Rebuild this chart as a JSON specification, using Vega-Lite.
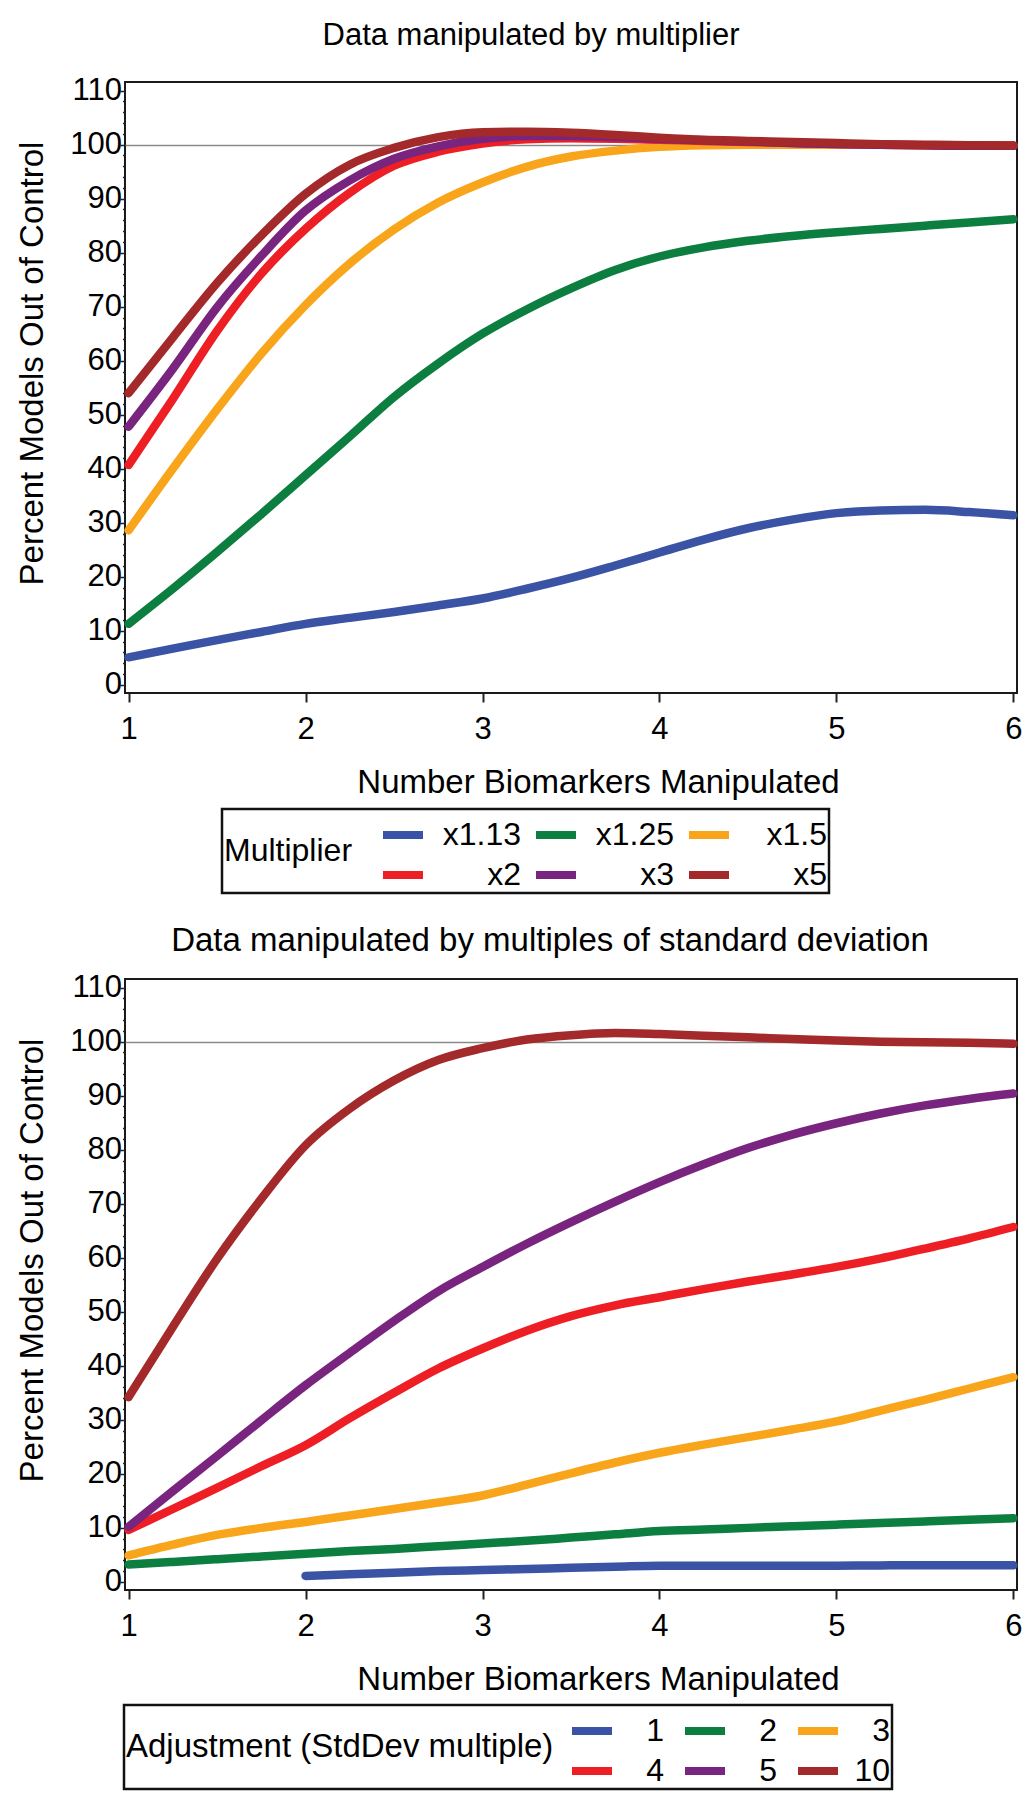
{
  "$schema": "https://vega.github.io/schema/vega-lite/v6.json",
  "background": "white",
  "padding": {"left": 15, "top": 18, "right": 5, "bottom": 2},
  "spacing": 27,
  "resolve": {"scale": {"color": "independent"}, "legend": {"color": "independent"}},
  "config": {
    "font": "Liberation Sans",
    "view": {"stroke": "#1a1a1a", "strokeWidth": 2},
    "axis": {
      "domain": false,
      "labelColor": "black",
      "titleColor": "black",
      "titleFontWeight": "normal",
      "tickColor": "#222222",
      "labelOverlap": false,
      "labelFlush": false,
      "labelBound": false
    },
    "title": {"color": "black", "fontWeight": "normal"},
    "legend": {
      "titleColor": "black",
      "labelColor": "black",
      "titleFontWeight": "normal",
      "strokeWidth": 2.5
    }
  },
  "datasets": {
    "mult": [
      {"n":1,"pct":5.1,"m":"x1.13"},{"n":1.25,"pct":6.7,"m":"x1.13"},{"n":1.5,"pct":8.3,"m":"x1.13"},{"n":1.75,"pct":9.8,"m":"x1.13"},{"n":2,"pct":11.3,"m":"x1.13"},{"n":2.25,"pct":12.4,"m":"x1.13"},{"n":2.5,"pct":13.5,"m":"x1.13"},{"n":2.75,"pct":14.7,"m":"x1.13"},{"n":3,"pct":16.0,"m":"x1.13"},{"n":3.25,"pct":17.8,"m":"x1.13"},{"n":3.5,"pct":19.8,"m":"x1.13"},{"n":3.75,"pct":22.1,"m":"x1.13"},{"n":4,"pct":24.5,"m":"x1.13"},{"n":4.25,"pct":26.9,"m":"x1.13"},{"n":4.5,"pct":29.0,"m":"x1.13"},{"n":4.75,"pct":30.6,"m":"x1.13"},{"n":5,"pct":31.8,"m":"x1.13"},{"n":5.25,"pct":32.3,"m":"x1.13"},{"n":5.5,"pct":32.4,"m":"x1.13"},{"n":5.75,"pct":32.0,"m":"x1.13"},{"n":6,"pct":31.4,"m":"x1.13"},
      {"n":1,"pct":11.3,"m":"x1.25"},{"n":1.25,"pct":17.8,"m":"x1.25"},{"n":1.5,"pct":24.6,"m":"x1.25"},{"n":1.75,"pct":31.6,"m":"x1.25"},{"n":2,"pct":38.8,"m":"x1.25"},{"n":2.25,"pct":46.0,"m":"x1.25"},{"n":2.5,"pct":53.3,"m":"x1.25"},{"n":2.75,"pct":59.5,"m":"x1.25"},{"n":3,"pct":65.0,"m":"x1.25"},{"n":3.25,"pct":69.5,"m":"x1.25"},{"n":3.5,"pct":73.4,"m":"x1.25"},{"n":3.75,"pct":76.8,"m":"x1.25"},{"n":4,"pct":79.3,"m":"x1.25"},{"n":4.25,"pct":81.0,"m":"x1.25"},{"n":4.5,"pct":82.2,"m":"x1.25"},{"n":4.75,"pct":83.1,"m":"x1.25"},{"n":5,"pct":83.8,"m":"x1.25"},{"n":5.25,"pct":84.4,"m":"x1.25"},{"n":5.5,"pct":85.0,"m":"x1.25"},{"n":5.75,"pct":85.6,"m":"x1.25"},{"n":6,"pct":86.2,"m":"x1.25"},
      {"n":1,"pct":28.6,"m":"x1.5"},{"n":1.25,"pct":40.0,"m":"x1.5"},{"n":1.5,"pct":51.0,"m":"x1.5"},{"n":1.75,"pct":61.3,"m":"x1.5"},{"n":2,"pct":70.3,"m":"x1.5"},{"n":2.25,"pct":78.0,"m":"x1.5"},{"n":2.5,"pct":84.3,"m":"x1.5"},{"n":2.75,"pct":89.3,"m":"x1.5"},{"n":3,"pct":93.0,"m":"x1.5"},{"n":3.25,"pct":95.9,"m":"x1.5"},{"n":3.5,"pct":97.8,"m":"x1.5"},{"n":3.75,"pct":98.9,"m":"x1.5"},{"n":4,"pct":99.6,"m":"x1.5"},{"n":4.25,"pct":99.9,"m":"x1.5"},{"n":4.5,"pct":100.0,"m":"x1.5"},{"n":4.75,"pct":100.0,"m":"x1.5"},{"n":5,"pct":100.0,"m":"x1.5"},{"n":5.25,"pct":100.0,"m":"x1.5"},{"n":5.5,"pct":99.9,"m":"x1.5"},{"n":5.75,"pct":99.9,"m":"x1.5"},{"n":6,"pct":99.8,"m":"x1.5"},
      {"n":1,"pct":40.7,"m":"x2"},{"n":1.25,"pct":52.9,"m":"x2"},{"n":1.5,"pct":65.5,"m":"x2"},{"n":1.75,"pct":76.1,"m":"x2"},{"n":2,"pct":84.4,"m":"x2"},{"n":2.25,"pct":91.1,"m":"x2"},{"n":2.5,"pct":96.1,"m":"x2"},{"n":2.75,"pct":98.7,"m":"x2"},{"n":3,"pct":100.2,"m":"x2"},{"n":3.25,"pct":101.0,"m":"x2"},{"n":3.5,"pct":101.2,"m":"x2"},{"n":3.75,"pct":101.1,"m":"x2"},{"n":4,"pct":100.9,"m":"x2"},{"n":4.25,"pct":100.7,"m":"x2"},{"n":4.5,"pct":100.5,"m":"x2"},{"n":4.75,"pct":100.3,"m":"x2"},{"n":5,"pct":100.1,"m":"x2"},{"n":5.25,"pct":100.0,"m":"x2"},{"n":5.5,"pct":99.9,"m":"x2"},{"n":5.75,"pct":99.8,"m":"x2"},{"n":6,"pct":99.8,"m":"x2"},
      {"n":1,"pct":47.8,"m":"x3"},{"n":1.25,"pct":58.5,"m":"x3"},{"n":1.5,"pct":69.9,"m":"x3"},{"n":1.75,"pct":79.4,"m":"x3"},{"n":2,"pct":87.8,"m":"x3"},{"n":2.25,"pct":93.4,"m":"x3"},{"n":2.5,"pct":97.4,"m":"x3"},{"n":2.75,"pct":99.7,"m":"x3"},{"n":3,"pct":101.1,"m":"x3"},{"n":3.25,"pct":101.6,"m":"x3"},{"n":3.5,"pct":101.6,"m":"x3"},{"n":3.75,"pct":101.4,"m":"x3"},{"n":4,"pct":101.1,"m":"x3"},{"n":4.25,"pct":100.8,"m":"x3"},{"n":4.5,"pct":100.6,"m":"x3"},{"n":4.75,"pct":100.3,"m":"x3"},{"n":5,"pct":100.1,"m":"x3"},{"n":5.25,"pct":100.0,"m":"x3"},{"n":5.5,"pct":99.9,"m":"x3"},{"n":5.75,"pct":99.8,"m":"x3"},{"n":6,"pct":99.8,"m":"x3"},
      {"n":1,"pct":54.0,"m":"x5"},{"n":1.25,"pct":64.3,"m":"x5"},{"n":1.5,"pct":74.4,"m":"x5"},{"n":1.75,"pct":83.2,"m":"x5"},{"n":2,"pct":90.9,"m":"x5"},{"n":2.25,"pct":96.3,"m":"x5"},{"n":2.5,"pct":99.4,"m":"x5"},{"n":2.75,"pct":101.4,"m":"x5"},{"n":3,"pct":102.3,"m":"x5"},{"n":3.25,"pct":102.4,"m":"x5"},{"n":3.5,"pct":102.2,"m":"x5"},{"n":3.75,"pct":101.8,"m":"x5"},{"n":4,"pct":101.3,"m":"x5"},{"n":4.25,"pct":100.9,"m":"x5"},{"n":4.5,"pct":100.7,"m":"x5"},{"n":4.75,"pct":100.5,"m":"x5"},{"n":5,"pct":100.3,"m":"x5"},{"n":5.25,"pct":100.1,"m":"x5"},{"n":5.5,"pct":100.0,"m":"x5"},{"n":5.75,"pct":99.9,"m":"x5"},{"n":6,"pct":99.85,"m":"x5"}
    ],
    "sd": [
      {"n":2,"pct":1.1,"sd":"1"},{"n":2.25,"pct":1.4,"sd":"1"},{"n":2.5,"pct":1.7,"sd":"1"},{"n":2.75,"pct":2.0,"sd":"1"},{"n":3,"pct":2.2,"sd":"1"},{"n":3.25,"pct":2.4,"sd":"1"},{"n":3.5,"pct":2.6,"sd":"1"},{"n":3.75,"pct":2.8,"sd":"1"},{"n":4,"pct":3.0,"sd":"1"},{"n":4.25,"pct":3.0,"sd":"1"},{"n":4.5,"pct":3.0,"sd":"1"},{"n":4.75,"pct":3.0,"sd":"1"},{"n":5,"pct":3.0,"sd":"1"},{"n":5.25,"pct":3.05,"sd":"1"},{"n":5.5,"pct":3.1,"sd":"1"},{"n":5.75,"pct":3.1,"sd":"1"},{"n":6,"pct":3.1,"sd":"1"},
      {"n":1,"pct":3.2,"sd":"2"},{"n":1.25,"pct":3.7,"sd":"2"},{"n":1.5,"pct":4.2,"sd":"2"},{"n":1.75,"pct":4.7,"sd":"2"},{"n":2,"pct":5.2,"sd":"2"},{"n":2.25,"pct":5.7,"sd":"2"},{"n":2.5,"pct":6.1,"sd":"2"},{"n":2.75,"pct":6.6,"sd":"2"},{"n":3,"pct":7.1,"sd":"2"},{"n":3.25,"pct":7.6,"sd":"2"},{"n":3.5,"pct":8.2,"sd":"2"},{"n":3.75,"pct":8.8,"sd":"2"},{"n":4,"pct":9.4,"sd":"2"},{"n":4.25,"pct":9.7,"sd":"2"},{"n":4.5,"pct":10.0,"sd":"2"},{"n":4.75,"pct":10.3,"sd":"2"},{"n":5,"pct":10.6,"sd":"2"},{"n":5.25,"pct":10.9,"sd":"2"},{"n":5.5,"pct":11.2,"sd":"2"},{"n":5.75,"pct":11.5,"sd":"2"},{"n":6,"pct":11.8,"sd":"2"},
      {"n":1,"pct":4.9,"sd":"3"},{"n":1.25,"pct":6.9,"sd":"3"},{"n":1.5,"pct":8.7,"sd":"3"},{"n":1.75,"pct":10.0,"sd":"3"},{"n":2,"pct":11.1,"sd":"3"},{"n":2.25,"pct":12.3,"sd":"3"},{"n":2.5,"pct":13.5,"sd":"3"},{"n":2.75,"pct":14.7,"sd":"3"},{"n":3,"pct":16.0,"sd":"3"},{"n":3.25,"pct":18.0,"sd":"3"},{"n":3.5,"pct":20.1,"sd":"3"},{"n":3.75,"pct":22.1,"sd":"3"},{"n":4,"pct":23.9,"sd":"3"},{"n":4.25,"pct":25.4,"sd":"3"},{"n":4.5,"pct":26.8,"sd":"3"},{"n":4.75,"pct":28.2,"sd":"3"},{"n":5,"pct":29.7,"sd":"3"},{"n":5.25,"pct":31.7,"sd":"3"},{"n":5.5,"pct":33.7,"sd":"3"},{"n":5.75,"pct":35.8,"sd":"3"},{"n":6,"pct":37.9,"sd":"3"},
      {"n":1,"pct":9.6,"sd":"4"},{"n":1.25,"pct":13.5,"sd":"4"},{"n":1.5,"pct":17.4,"sd":"4"},{"n":1.75,"pct":21.4,"sd":"4"},{"n":2,"pct":25.3,"sd":"4"},{"n":2.25,"pct":30.3,"sd":"4"},{"n":2.5,"pct":35.0,"sd":"4"},{"n":2.75,"pct":39.5,"sd":"4"},{"n":3,"pct":43.2,"sd":"4"},{"n":3.25,"pct":46.5,"sd":"4"},{"n":3.5,"pct":49.2,"sd":"4"},{"n":3.75,"pct":51.2,"sd":"4"},{"n":4,"pct":52.7,"sd":"4"},{"n":4.25,"pct":54.2,"sd":"4"},{"n":4.5,"pct":55.6,"sd":"4"},{"n":4.75,"pct":56.9,"sd":"4"},{"n":5,"pct":58.3,"sd":"4"},{"n":5.25,"pct":59.9,"sd":"4"},{"n":5.5,"pct":61.7,"sd":"4"},{"n":5.75,"pct":63.6,"sd":"4"},{"n":6,"pct":65.7,"sd":"4"},
      {"n":1,"pct":10.2,"sd":"5"},{"n":1.25,"pct":16.8,"sd":"5"},{"n":1.5,"pct":23.3,"sd":"5"},{"n":1.75,"pct":29.9,"sd":"5"},{"n":2,"pct":36.4,"sd":"5"},{"n":2.25,"pct":42.4,"sd":"5"},{"n":2.5,"pct":48.3,"sd":"5"},{"n":2.75,"pct":53.8,"sd":"5"},{"n":3,"pct":58.3,"sd":"5"},{"n":3.25,"pct":62.6,"sd":"5"},{"n":3.5,"pct":66.6,"sd":"5"},{"n":3.75,"pct":70.4,"sd":"5"},{"n":4,"pct":74.0,"sd":"5"},{"n":4.25,"pct":77.3,"sd":"5"},{"n":4.5,"pct":80.3,"sd":"5"},{"n":4.75,"pct":82.8,"sd":"5"},{"n":5,"pct":84.9,"sd":"5"},{"n":5.25,"pct":86.7,"sd":"5"},{"n":5.5,"pct":88.2,"sd":"5"},{"n":5.75,"pct":89.4,"sd":"5"},{"n":6,"pct":90.4,"sd":"5"},
      {"n":1,"pct":34.2,"sd":"10"},{"n":1.25,"pct":47.2,"sd":"10"},{"n":1.5,"pct":59.8,"sd":"10"},{"n":1.75,"pct":70.9,"sd":"10"},{"n":2,"pct":80.8,"sd":"10"},{"n":2.25,"pct":87.6,"sd":"10"},{"n":2.5,"pct":92.8,"sd":"10"},{"n":2.75,"pct":96.6,"sd":"10"},{"n":3,"pct":98.8,"sd":"10"},{"n":3.25,"pct":100.4,"sd":"10"},{"n":3.5,"pct":101.2,"sd":"10"},{"n":3.75,"pct":101.6,"sd":"10"},{"n":4,"pct":101.4,"sd":"10"},{"n":4.25,"pct":101.1,"sd":"10"},{"n":4.5,"pct":100.8,"sd":"10"},{"n":4.75,"pct":100.5,"sd":"10"},{"n":5,"pct":100.2,"sd":"10"},{"n":5.25,"pct":100.0,"sd":"10"},{"n":5.5,"pct":99.9,"sd":"10"},{"n":5.75,"pct":99.8,"sd":"10"},{"n":6,"pct":99.6,"sd":"10"}
    ]
  },
  "vconcat": [
    {
      "width": 892,
      "height": 611,
      "title": {"text": "Data manipulated by multiplier", "fontSize": 31, "dx": -40, "offset": 23, "anchor": "middle"},
      "data": {"name": "mult"},
      "mark": {"type": "line", "strokeWidth": 8.5, "strokeCap": "round", "strokeJoin": "round", "interpolate": "monotone"},
      "encoding": {
        "x": {
          "field": "n", "type": "quantitative",
          "scale": {"domain": [0.98, 6.02], "nice": false, "zero": false},
          "axis": {
            "values": [1, 2, 3, 4, 5, 6], "grid": false,
            "tickSize": 9, "tickWidth": 2,
            "labelFontSize": 31, "labelPadding": 12,
            "title": "Number Biomarkers Manipulated",
            "titleFontSize": 33, "titleX": 473, "titleY": 73, "titleBaseline": "top", "titleAlign": "center"
          }
        },
        "y": {
          "field": "pct", "type": "quantitative",
          "scale": {"domain": [-1.5, 111.6], "nice": false, "zero": false},
          "axis": {
            "values": [0,2,4,6,8,10,12,14,16,18,20,22,24,26,28,30,32,34,36,38,40,42,44,46,48,50,52,54,56,58,60,62,64,66,68,70,72,74,76,78,80,82,84,86,88,90,92,94,96,98,100,102,104,106,108,110],
            "labelExpr": "datum.value % 10 === 0 ? datum.label : ''",
            "tickSize": {"expr": "datum.value % 10 === 0 ? 5 : 2.5"},
            "tickWidth": 1.5,
            "labelFontSize": 31, "labelPadding": -1.5,
            "grid": true, "gridColor": "#8a8a8a", "gridWidth": 1.3,
            "gridOpacity": {"expr": "datum.value === 100 ? 1 : 0"},
            "title": "Percent Models Out of Control",
            "titleFontSize": 33, "titleX": -93, "titleY": 281, "titleBaseline": "middle", "titleAlign": "center", "titleAngle": 270
          }
        },
        "color": {
          "field": "m", "type": "nominal",
          "scale": {"domain": ["x1.13", "x1.25", "x1.5", "x2", "x3", "x5"], "range": ["#3A53A4", "#0C7F40", "#F9A51B", "#ED1F24", "#79247F", "#A4292B"]},
          "legend": {
            "orient": "none", "legendX": 97, "legendY": 727,
            "direction": "horizontal", "columns": 3,
            "title": "Multiplier",
            "titleOrient": "left", "titleFontSize": 32, "titlePadding": 26,
            "labelFontSize": 32, "labelAlign": "right", "labelOffset": 94,
            "labelLimit": 300,
            "symbolType": "stroke", "symbolSize": 1600, "symbolStrokeWidth": 8,
            "columnPadding": -1, "rowPadding": 0,
            "strokeColor": "#111111", "padding": 2
          }
        }
      }
    },
    {
      "width": 892,
      "height": 611,
      "title": {"text": "Data manipulated by multiples of standard deviation", "fontSize": 33, "dx": -21, "offset": 14, "anchor": "middle"},
      "data": {"name": "sd"},
      "mark": {"type": "line", "strokeWidth": 8.5, "strokeCap": "round", "strokeJoin": "round", "interpolate": "monotone"},
      "encoding": {
        "x": {
          "field": "n", "type": "quantitative",
          "scale": {"domain": [0.98, 6.02], "nice": false, "zero": false},
          "axis": {
            "values": [1, 2, 3, 4, 5, 6], "grid": false,
            "tickSize": 9, "tickWidth": 2,
            "labelFontSize": 31, "labelPadding": 12,
            "title": "Number Biomarkers Manipulated",
            "titleFontSize": 33, "titleX": 473, "titleY": 73, "titleBaseline": "top", "titleAlign": "center"
          }
        },
        "y": {
          "field": "pct", "type": "quantitative",
          "scale": {"domain": [-1.5, 111.6], "nice": false, "zero": false},
          "axis": {
            "values": [0,2,4,6,8,10,12,14,16,18,20,22,24,26,28,30,32,34,36,38,40,42,44,46,48,50,52,54,56,58,60,62,64,66,68,70,72,74,76,78,80,82,84,86,88,90,92,94,96,98,100,102,104,106,108,110],
            "labelExpr": "datum.value % 10 === 0 ? datum.label : ''",
            "tickSize": {"expr": "datum.value % 10 === 0 ? 5 : 2.5"},
            "tickWidth": 1.5,
            "labelFontSize": 31, "labelPadding": -1.5,
            "grid": true, "gridColor": "#8a8a8a", "gridWidth": 1.3,
            "gridOpacity": {"expr": "datum.value === 100 ? 1 : 0"},
            "title": "Percent Models Out of Control",
            "titleFontSize": 33, "titleX": -93, "titleY": 281, "titleBaseline": "middle", "titleAlign": "center", "titleAngle": 270
          }
        },
        "color": {
          "field": "sd", "type": "nominal",
          "scale": {"domain": ["1", "2", "3", "4", "5", "10"], "range": ["#3A53A4", "#0C7F40", "#F9A51B", "#ED1F24", "#79247F", "#A4292B"]},
          "legend": {
            "orient": "none", "legendX": -1, "legendY": 726,
            "direction": "horizontal", "columns": 3,
            "title": "Adjustment (StdDev multiple)",
            "titleOrient": "left", "titleFontSize": 33, "titlePadding": 14, "titleLimit": 600,
            "labelFontSize": 32, "labelAlign": "right", "labelOffset": 48,
            "symbolType": "stroke", "symbolSize": 1600, "symbolStrokeWidth": 8,
            "columnPadding": 5, "rowPadding": 0,
            "strokeColor": "#111111", "padding": 2
          }
        }
      }
    }
  ]
}
